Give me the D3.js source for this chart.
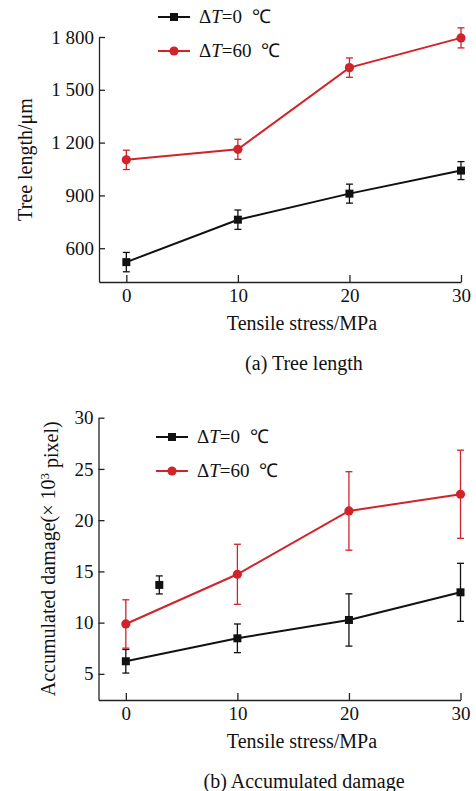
<!DOCTYPE html>
<html>

<head>
    <meta http-equiv="Content-Type" content="text/html; charset=utf-8">
    <title>Tree length and accumulated damage</title>
    <style type="text/css">
        body {
            margin: 0;
            background: #fff;
        }
        svg text {
            font-family: "Liberation Serif", "Times New Roman", serif;
            fill: #111;
        }
        .axis path,
        .axis line {
            fill: none;
            stroke: #222;
            stroke-width: 1.3px;
        }
        .axis text {
            font-size: 19px;
        }
    </style>
</head>

<body>
    <script src="https://cdn.jsdelivr.net/npm/d3@7"></script>
    <script>
        // tensile stress (MPa)
        var stress = [0, 10, 20, 30];
        var xTicks = [0, 10, 20, 30];

        // (a) tree length, um
        var lenDT0 = [521, 762, 910, 1041];
        var lenDT0Err = [55, 55, 54, 51];
        var lenDT60 = [1102, 1162, 1626, 1795];
        var lenDT60Err = [55, 57, 55, 57];
        var lenTicks = [600, 900, 1200, 1500, 1800];

        // (b) accumulated damage, x10^3 pixel
        var dmgDT0 = [6.23, 8.47, 10.26, 12.96];
        var dmgDT0Err = [1.15, 1.4, 2.55, 2.83];
        var dmgDT60 = [9.87, 14.72, 20.9, 22.53];
        var dmgDT60Err = [2.36, 2.93, 3.83, 4.3];
        var dmgTicks = [5, 10, 15, 20, 25, 30];
        // lone square that sits in panel (b)
        var strayX = [3];
        var strayY = [13.68];
        var strayErr = [0.88];

        var seriesNames = ["\u0394T=0", "\u0394T=60"];
        var black = "#111111",
            red = "#d1232a";

        var fmt = d3.formatLocale({
            decimal: ".",
            thousands: " ",
            grouping: [3],
            currency: ["", ""]
        }).format(",");

        var svg = d3.select("body").append("svg")
            .attr("width", 476)
            .attr("height", 791);

        function toPts(xs, ys, es) {
            return xs.map(function (x, i) {
                return { x: x, y: ys[i], e: es[i] };
            });
        }

        function drawSeries(g, x, y, pts, color, shape, withLine) {
            if (withLine) {
                g.append("path")
                    .datum(pts)
                    .attr("fill", "none")
                    .attr("stroke", color)
                    .attr("stroke-width", 2)
                    .attr("d", d3.line()
                        .x(function (d) { return x(d.x); })
                        .y(function (d) { return y(d.y); }));
            }
            var eb = g.selectAll(null)
                .data(pts)
                .enter().append("g")
                .attr("stroke", color)
                .attr("stroke-width", 1.3);
            eb.append("line")
                .attr("x1", function (d) { return x(d.x); })
                .attr("x2", function (d) { return x(d.x); })
                .attr("y1", function (d) { return y(d.y - d.e); })
                .attr("y2", function (d) { return y(d.y + d.e); });
            [-1, 1].forEach(function (s) {
                eb.append("line")
                    .attr("x1", function (d) { return x(d.x) - 3.5; })
                    .attr("x2", function (d) { return x(d.x) + 3.5; })
                    .attr("y1", function (d) { return y(d.y + s * d.e); })
                    .attr("y2", function (d) { return y(d.y + s * d.e); });
            });
            if (shape === "square") {
                g.selectAll(null)
                    .data(pts)
                    .enter().append("rect")
                    .attr("fill", color)
                    .attr("x", function (d) { return x(d.x) - 4; })
                    .attr("y", function (d) { return y(d.y) - 4; })
                    .attr("width", 8)
                    .attr("height", 8);
            } else {
                g.selectAll(null)
                    .data(pts)
                    .enter().append("circle")
                    .attr("fill", color)
                    .attr("cx", function (d) { return x(d.x); })
                    .attr("cy", function (d) { return y(d.y); })
                    .attr("r", 4.6);
            }
        }

        function legendItem(g, lx, ly, name, color, shape) {
            g.append("line")
                .attr("x1", lx).attr("x2", lx + 32)
                .attr("y1", ly).attr("y2", ly)
                .attr("stroke", color)
                .attr("stroke-width", 2);
            if (shape === "square") {
                g.append("rect")
                    .attr("x", lx + 12).attr("y", ly - 4)
                    .attr("width", 8).attr("height", 8)
                    .attr("fill", color);
            } else {
                g.append("circle")
                    .attr("cx", lx + 16).attr("cy", ly)
                    .attr("r", 4.6)
                    .attr("fill", color);
            }
            var t = g.append("text")
                .attr("x", lx + 41)
                .attr("y", ly + 6)
                .style("font-size", "19px")
                .style("white-space", "pre");
            var parts = name.split("T");
            t.append("tspan").text(parts[0]);
            t.append("tspan").style("font-style", "italic").text("T");
            t.append("tspan").text(parts[1] + "\u2002\u2103");
        }

        function panel(opt) {
            var x = d3.scaleLinear().domain([-2.45, 30]).range([opt.left, opt.right]);
            var y = d3.scaleLinear().domain(opt.yDomain).range([opt.bottom, opt.top]);

            svg.append("g")
                .attr("class", "axis")
                .attr("transform", "translate(0," + opt.bottom + ")")
                .call(d3.axisBottom(x).tickValues(xTicks).tickSizeInner(-7).tickSizeOuter(0).tickPadding(7));
            svg.append("g")
                .attr("class", "axis")
                .attr("transform", "translate(" + opt.left + ",0)")
                .call(d3.axisLeft(y).tickValues(opt.yTicks).tickFormat(opt.tickFormat)
                    .tickSizeInner(-6).tickSizeOuter(0).tickPadding(5));

            var g = svg.append("g");
            drawSeries(g, x, y, opt.s0, black, "square", true);
            drawSeries(g, x, y, opt.s1, red, "circle", true);
            if (opt.extra) drawSeries(g, x, y, opt.extra, black, "square", false);

            legendItem(g, opt.legX, opt.legY, seriesNames[0], black, "square");
            legendItem(g, opt.legX, opt.legY + 34, seriesNames[1], red, "circle");

            svg.append("text")
                .attr("transform", "translate(" + opt.ylabX + "," + (opt.top + opt.bottom) / 2 + ") rotate(-90)")
                .attr("text-anchor", "middle")
                .attr("dy", "0.35em")
                .style("font-size", "20px")
                .call(opt.ylab);
            svg.append("text")
                .attr("x", 302)
                .attr("y", opt.bottom + 48)
                .attr("text-anchor", "middle")
                .style("font-size", "20px")
                .text("Tensile stress/MPa");
            svg.append("text")
                .attr("x", 304)
                .attr("y", opt.bottom + 88)
                .attr("text-anchor", "middle")
                .style("font-size", "20px")
                .text(opt.caption);
        }

        panel({
            left: 99, right: 461, top: 37, bottom: 282,
            yDomain: [408, 1800],
            yTicks: lenTicks,
            tickFormat: fmt,
            s0: toPts(stress, lenDT0, lenDT0Err),
            s1: toPts(stress, lenDT60, lenDT60Err),
            legX: 158, legY: 17,
            ylabX: 25,
            ylab: function (t) { t.text("Tree length/\u03bcm"); },
            caption: "(a) Tree length"
        });

        panel({
            left: 98.5, right: 460.5, top: 417.7, bottom: 700,
            yDomain: [2.45, 30],
            yTicks: dmgTicks,
            tickFormat: d3.format("d"),
            s0: toPts(stress, dmgDT0, dmgDT0Err),
            s1: toPts(stress, dmgDT60, dmgDT60Err),
            extra: toPts(strayX, strayY, strayErr),
            legX: 156, legY: 437,
            ylabX: 48,
            ylab: function (t) {
                t.append("tspan").text("Accumulated damage(\u00d7 10");
                t.append("tspan").attr("dy", "-0.45em").style("font-size", "13px").text("3");
                t.append("tspan").attr("dy", "0.45em").text(" pixel)");
            },
            caption: "(b) Accumulated damage"
        });
    </script>
</body>

</html>
